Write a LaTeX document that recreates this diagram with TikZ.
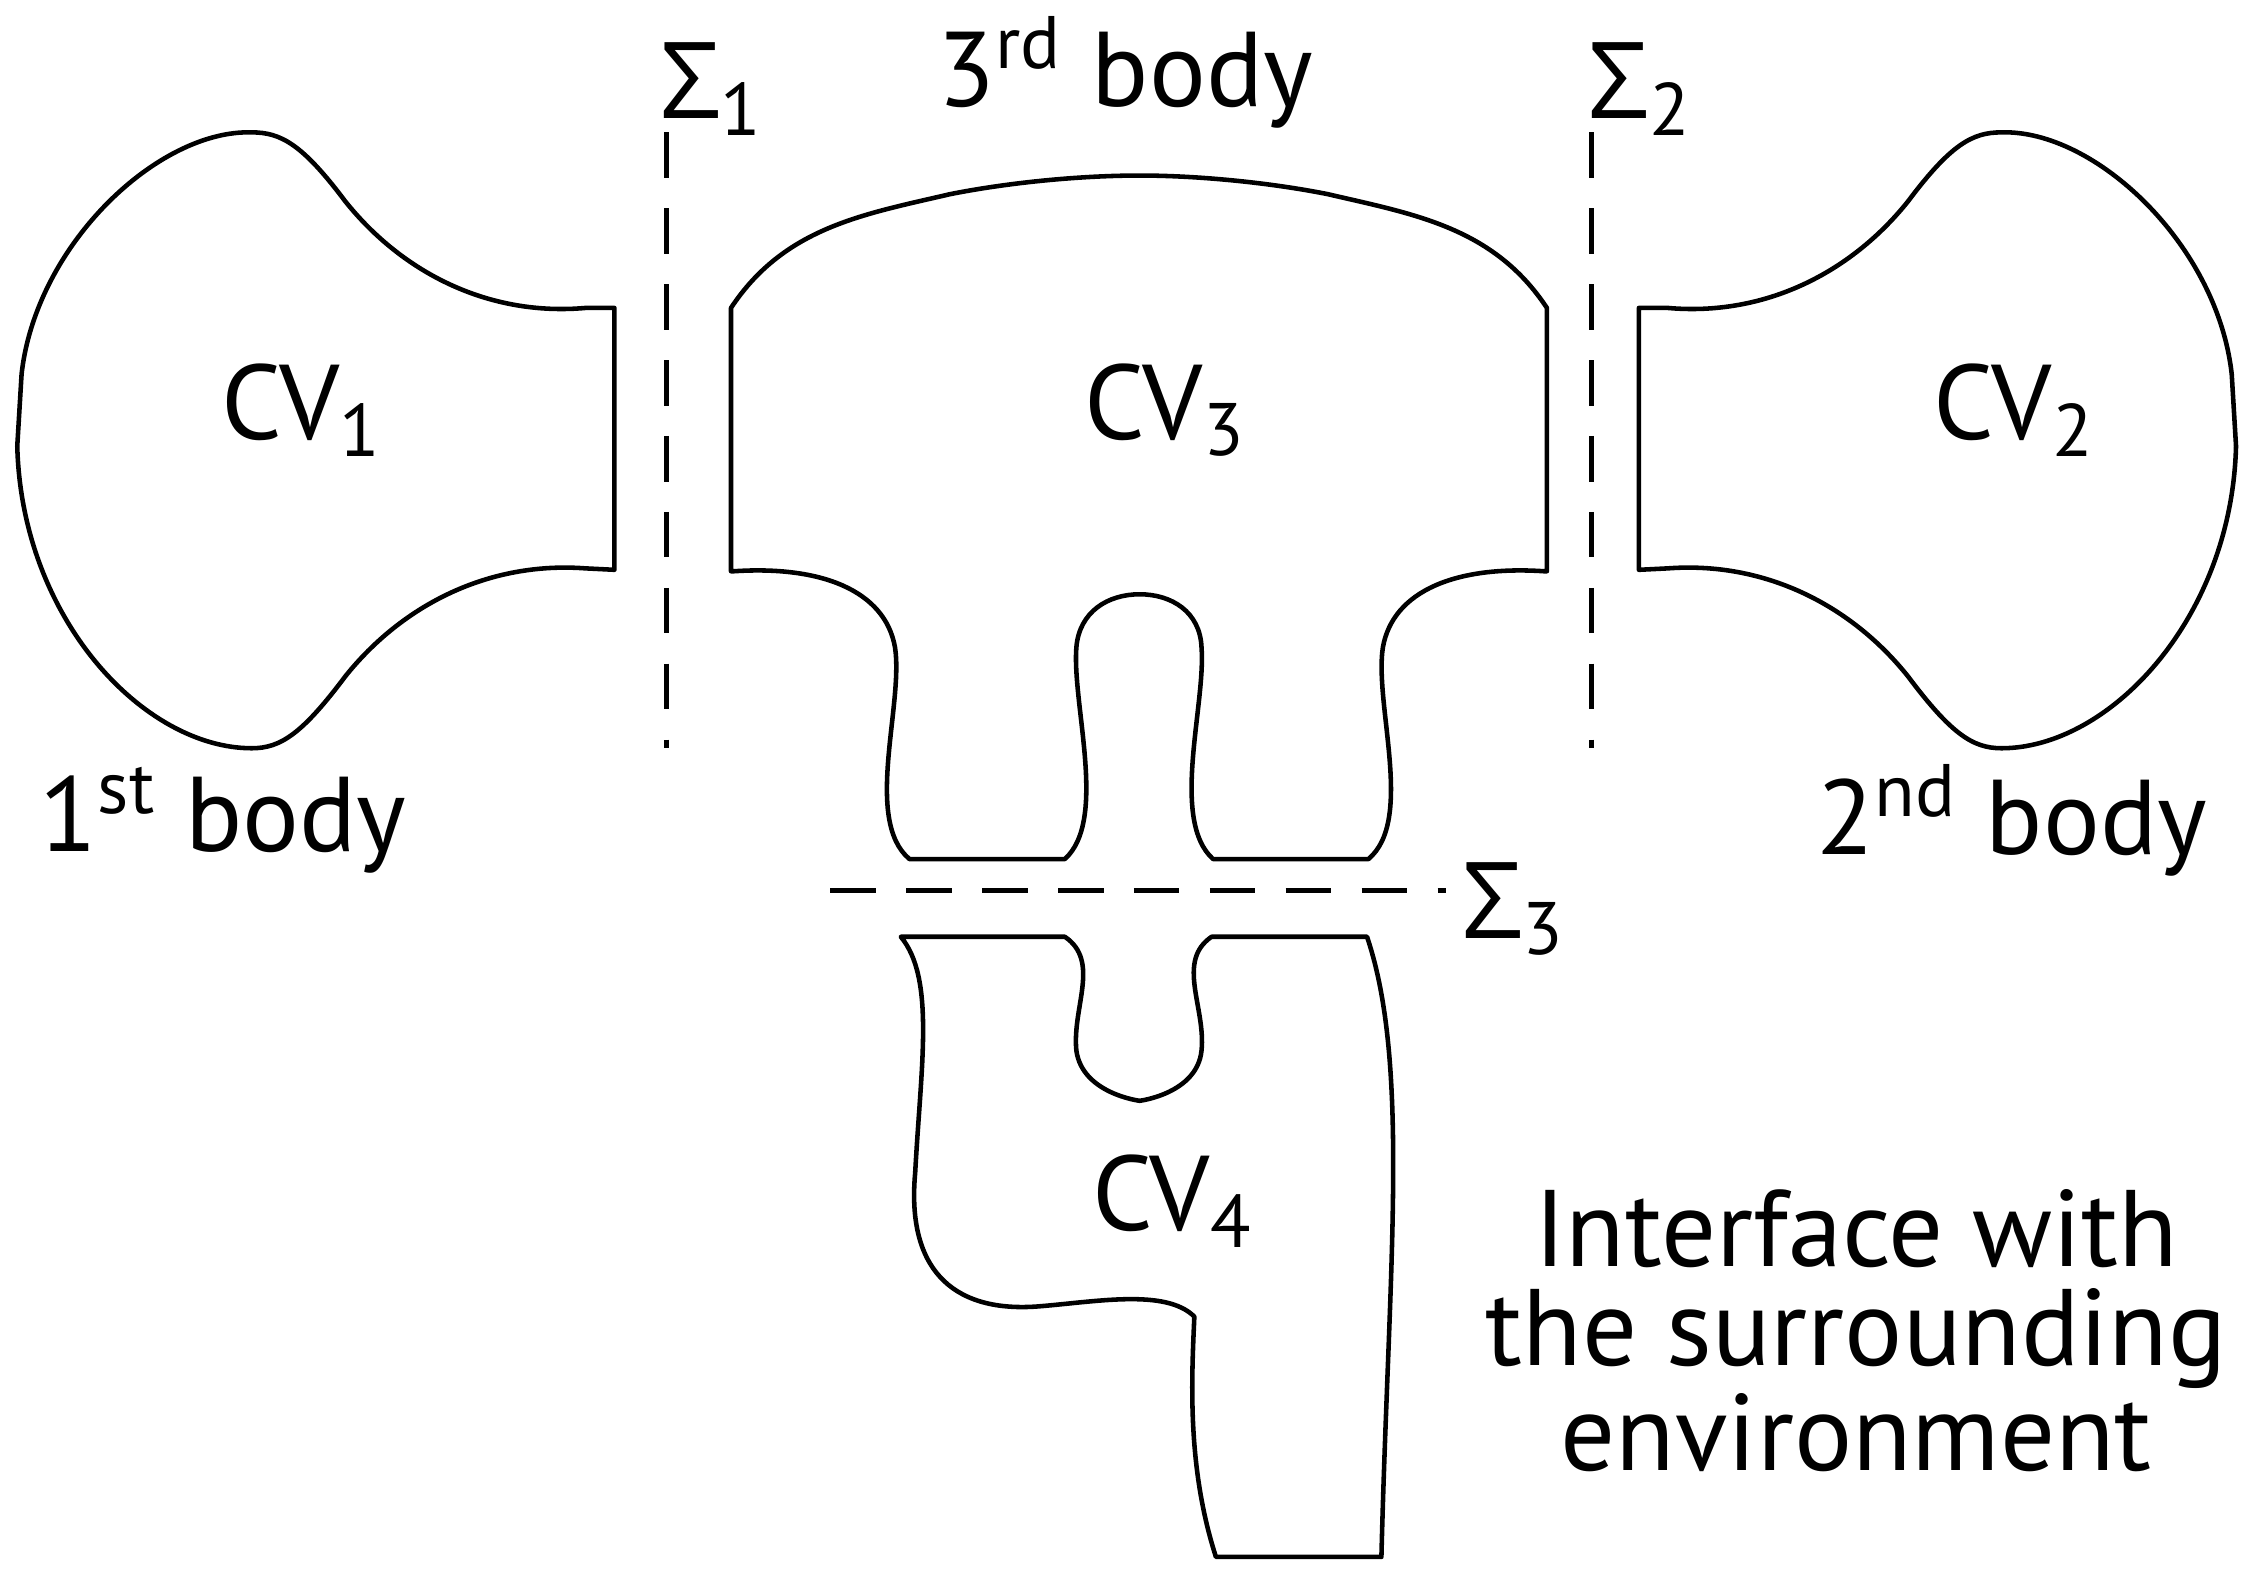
\documentclass[tikz,border=0pt]{standalone}
\usepackage{fontspec}
\setmainfont{PT Sans}
\newfontfamily\grk{Open Sans}
\begin{document}
\begin{tikzpicture}[x=0.01cm,y=-0.01cm,line width=0.9pt,
  outl/.style={draw,line join=round},
  dashln/.style={draw,dash pattern=on 9pt off 6pt},
  lab/.style={font=\fontsize{21}{21}\selectfont,inner sep=0pt}]
\useasboundingbox (0,0) rectangle (1565,1095);
% CV1
\path[outl] (427,214) -- (427,396) -- (407,395) .. controls (340,390) and (280,420) .. (240,470) .. controls (210,510) and (195,520) .. (175,520) .. controls (100,520) and (15,430) .. (12,310) -- (15,260) .. controls (25,170) and (110,90) .. (175,92) .. controls (195,92) and (210,100) .. (240,140) .. controls (280,190) and (340,220) .. (407,214) -- cycle;
% CV2 (mirror)
\begin{scope}[xshift=15.65cm,xscale=-1]
\path[outl] (427,214) -- (427,396) -- (407,395) .. controls (340,390) and (280,420) .. (240,470) .. controls (210,510) and (195,520) .. (175,520) .. controls (100,520) and (15,430) .. (12,310) -- (15,260) .. controls (25,170) and (110,90) .. (175,92) .. controls (195,92) and (210,100) .. (240,140) .. controls (280,190) and (340,220) .. (407,214) -- cycle;
\end{scope}
% CV3
\path[outl] (792,122) .. controls (750,122) and (700,127) .. (660,135) .. controls (600,149) and (545,158) .. (508,214) -- (508,397) -- (510,397) .. controls (570,393) and (615,410) .. (622,450) .. controls (628,490) and (600,570) .. (632,597) -- (740,597) .. controls (770,570) and (745,490) .. (748,450) .. controls (750,425) and (770,413) .. (792,413)
 .. controls (814,413) and (834,425) .. (835,450) .. controls (838,490) and (813,570) .. (843,597) -- (951,597) .. controls (983,570) and (955,490) .. (961,450) .. controls (968,410) and (1013,393) .. (1073,397) -- (1075,397) -- (1075,214) .. controls (1038,158) and (983,149) .. (923,135) .. controls (883,127) and (833,122) .. (792,122) -- cycle;
% CV4
\path[outl] (626,651) -- (740,651) .. controls (765,668) and (745,700) .. (748,730) .. controls (752,760) and (792,765) .. (792,765) .. controls (792,765) and (832,760) .. (835,730) .. controls (838,700) and (817,668) .. (842,651) -- (950,651) .. controls (980,740) and (965,880) .. (960,1082) -- (845,1082) .. controls (825,1020) and (828,960) .. (830,915) .. controls (810,895) and (760,905) .. (720,908) .. controls (660,912) and (630,880) .. (636,815) .. controls (640,740) and (650,680) .. (626,651) -- cycle;
% dashed interfaces
\coordinate (a1) at (463,92); \coordinate (b1) at (463,520);
\coordinate (a2) at (1106,92); \coordinate (b2) at (1106,520);
\coordinate (a3) at (577,619); \coordinate (b3) at (1005,619);
\draw[dashln] (a1) -- (b1); \draw[dashln] (a2) -- (b2); \draw[dashln] (a3) -- (b3);
% labels
\node[lab] (s1) at (495,62) {{\grk Σ}\textsubscript{1}};
\node[lab] (s2) at (1140,62) {{\grk Σ}\textsubscript{2}};
\node[lab] (s3) at (1052,632) {{\grk Σ}\textsubscript{3}};
\node[lab] (t3) at (782,50) {3\textsuperscript{rd} body};
\node[lab] (t1) at (155,570) {1\textsuperscript{st} body};
\node[lab] (t2) at (1398,570) {2\textsuperscript{nd} body};
\node[lab] (c1) at (210,285) {CV\textsubscript{1}};
\node[lab] (c3) at (810,285) {CV\textsubscript{3}};
\node[lab] (c2) at (1400,285) {CV\textsubscript{2}};
\node[lab] (c4) at (815,835) {CV\textsubscript{4}};
\node[lab,align=center,font=\fontsize{21.5}{19.5}\selectfont] (env) at (1290,925) {Interface with\\the surrounding\\environment};
\end{tikzpicture}
\end{document}
